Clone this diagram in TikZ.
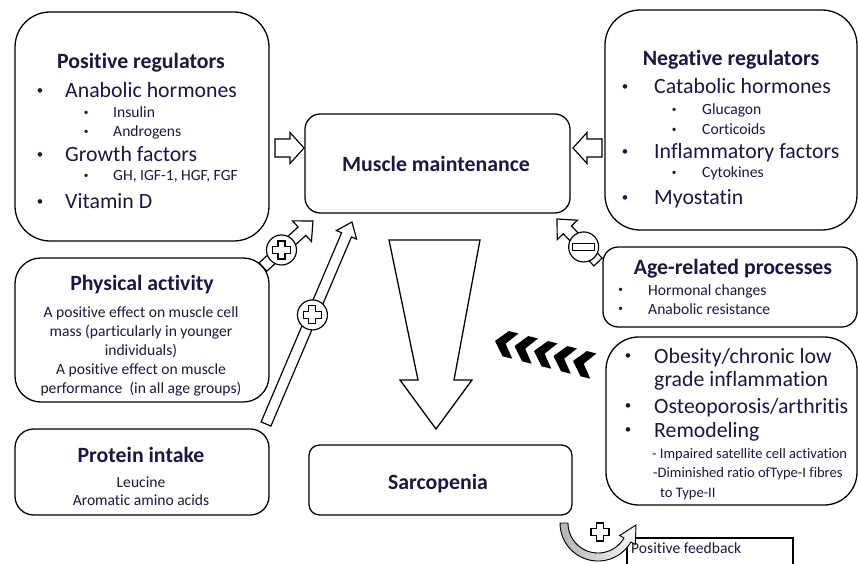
\documentclass[tikz,border=0pt]{standalone}
\usepackage{fontspec}
\setmainfont{Carlito}[Ligatures=NoCommon]
\usetikzlibrary{calc,fit}

\definecolor{ink}{RGB}{28,22,64}

\newcommand\bul[1]{\makebox[#1][l]{\hspace{1.5pt}\raisebox{3pt}{\fontsize{11}{11}\selectfont\textbullet}}}
\newcommand\sbul[1]{\makebox[#1][l]{\hspace{1pt}\raisebox{1.8pt}{\fontsize{8}{8}\selectfont\textbullet}}}
% outlined block arrow: tail, tip, half shaft, half head, head length
\newcommand\blockarrow[5]{%
  \coordinate (hb) at ($(#2)!#5!(#1)$);
  \draw[line width=1pt, fill=white, line join=miter]
    ($(#1)!#3!90:(#2)$) -- ($(hb)!#3!90:(#2)$) -- ($(hb)!#4!90:(#2)$) -- (#2)
    -- ($(hb)!#4!-90:(#2)$) -- ($(hb)!#3!-90:(#2)$) -- ($(#1)!#3!-90:(#2)$) -- cycle;
}

\tikzset{
  plus sign/.pic={
    \draw[line width=0.9pt, fill=white] (-3.5,-9) -- (3.5,-9) -- (3.5,-3.5) -- (9,-3.5) -- (9,3.5)
      -- (3.5,3.5) -- (3.5,9) -- (-3.5,9) -- (-3.5,3.5) -- (-9,3.5) -- (-9,-3.5) -- (-3.5,-3.5) -- cycle;
  }
}

\begin{document}
\begin{tikzpicture}[x=0.03cm, y=-0.03cm,
  box/.style={draw, line width=1.1pt, inner sep=0pt},
  title/.style={anchor=base, inner sep=0pt, font=\bfseries\fontsize{18.6}{22}\selectfont, text=ink},
  item/.style={anchor=base west, inner sep=0pt, text=ink, font=\fontsize{18.6}{22}\selectfont},
  sub/.style={anchor=base west, inner sep=0pt, text=ink, font=\fontsize{13.3}{16}\selectfont},
  small/.style={anchor=base west, inner sep=0pt, text=ink, font=\fontsize{12.4}{15}\selectfont},
  note/.style={inner sep=0pt, text=ink, align=center, font=\fontsize{13.3}{16.2}\selectfont},
  sign/.style={circle, draw, line width=1pt, fill=white, minimum size=0.9cm, inner sep=0pt}]

\useasboundingbox (0,0) rectangle (858,564);

% boxes
\node[box, rounded corners=30pt, fit={(15,12) (269,241)}] (pos) {};
\node[box, rounded corners=30pt, fit={(605,10) (857,230)}] (neg) {};
\node[box, rounded corners=13pt, fit={(305,114) (570,213)}] (mm) {};
\node[box, rounded corners=22pt, fit={(15,258) (269,402)}] (phys) {};
\node[box, rounded corners=16pt, fit={(15,429) (269,515)}] (prot) {};
\node[box, rounded corners=9pt, fit={(309,445) (572,515)}] (sarc) {};
\node[box, rounded corners=13pt, fit={(603,247) (857,327)}] (age) {};
\node[box, rounded corners=28pt, fit={(606,337) (857,505)}] (obes) {};
\node[draw, line width=1pt, inner sep=0pt, fit={(627,538) (793,575)}] (fb) {};

\node[title] (mm-t) at (436,172) {Muscle maintenance};
\node[title] (sarc-t) at (438,489) {Sarcopenia};

% positive regulators
\node[title] (pos-t) at (141,69) {Positive regulators};
\node[item] (pos-1) at (35,98) {\bul{0.9cm}Anabolic hormones};
\node[sub] (pos-1a) at (82.5,118) {\sbul{0.915cm}Insulin};
\node[sub] (pos-1b) at (82.5,137) {\sbul{0.915cm}Androgens};
\node[item] (pos-2) at (35,162) {\bul{0.9cm}Growth factors};
\node[sub] (pos-2a) at (82.5,181) {\sbul{0.915cm}GH, IGF-1, HGF, FGF};
\node[item] (pos-3) at (35,209) {\bul{0.9cm}Vitamin D};

% negative regulators
\node[title] (neg-t) at (731,66) {Negative regulators};
\node[item] (neg-1) at (620,94) {\bul{1.02cm}Catabolic hormones};
\node[sub] (neg-1a) at (670.5,115) {\sbul{0.945cm}Glucagon};
\node[sub] (neg-1b) at (670.5,135) {\sbul{0.945cm}Corticoids};
\node[item] (neg-2) at (620,159) {\bul{1.02cm}Inflammatory factors};
\node[sub] (neg-2a) at (670.5,178) {\sbul{0.945cm}Cytokines};
\node[item] (neg-3) at (620,205) {\bul{1.02cm}Myostatin};

% physical activity, protein intake
\node[title] (phys-t) at (142,291) {Physical activity};
\node[note] (phys-n) at (141,351) {A positive effect on muscle cell\\mass (particularly in younger\\individuals)\\A positive effect on muscle\\performance\ \ (in all age groups)};
\node[title] (prot-t) at (141,462) {Protein intake};
\node[sub, anchor=base] (prot-1) at (141,487) {Leucine};
\node[sub, anchor=base] (prot-2) at (141,505) {Aromatic amino acids};

% age-related processes
\node[title] (age-t) at (733,274) {Age-related processes};
\node[sub] (age-1) at (617,295) {\sbul{0.93cm}Hormonal changes};
\node[sub] (age-2) at (617,314) {\sbul{0.93cm}Anabolic resistance};

% obesity etc.
\node[item] (obes-1) at (623,363) {\bul{0.93cm}Obesity/chronic low};
\node[item] (obes-1b) at (654,386) {grade inflammation};
\node[item] (obes-2) at (623,413) {\bul{0.93cm}Osteoporosis/arthritis};
\node[item] (obes-3) at (623,437) {\bul{0.93cm}Remodeling};
\node[small] (obes-3a) at (652,458) {- Impaired satellite cell activation};
\node[small] (obes-3b) at (653,477) {-Diminished ratio ofType-I fibres};
\node[small] (obes-3c) at (660,497) {to Type-II};
\node[sub] (fb-t) at (631,553) {Positive feedback};

% arrows into muscle maintenance
\coordinate (l-tail) at (275,148);
\coordinate (l-tip) at (304,148);
\coordinate (r-tail) at (602,148);
\coordinate (r-tip) at (573,148);
\blockarrow{l-tail}{l-tip}{0.27cm}{0.465cm}{0.42cm}
\blockarrow{r-tail}{r-tip}{0.27cm}{0.465cm}{0.42cm}

\coordinate (pa-tail) at (263,267);
\coordinate (pa-tip) at (313,221);
\blockarrow{pa-tail}{pa-tip}{0.17cm}{0.42cm}{0.45cm}
\node[sign] (pa-c) at ($(pa-tail)!0.37!(pa-tip)$) {};
\pic at (pa-c) {plus sign};

\coordinate (pi-tail) at (266,424);
\coordinate (pi-tip) at (352,222);
\blockarrow{pi-tail}{pi-tip}{0.16cm}{0.33cm}{0.42cm}
\node[sign] (pi-c) at ($(pi-tail)!0.54!(pi-tip)$) {};
\pic at (pi-c) {plus sign};

\coordinate (ag-tail) at (598,262);
\coordinate (ag-tip) at (557,219);
\blockarrow{ag-tail}{ag-tip}{0.17cm}{0.42cm}{0.45cm}
\node[sign] (ag-c) at ($(ag-tail)!0.35!(ag-tip)$) {};
\draw[line width=0.9pt, fill=white] ($(ag-c)+(-11,-3.5)$) rectangle ($(ag-c)+(11,3.5)$);

% big arrow down to sarcopenia
\draw[line width=1.1pt, fill=white, line join=miter] (389,240) -- (480,240) -- (454,380) -- (472,380)
  -- (436,429) -- (400,380) -- (418,380) -- cycle;

% chevrons
\foreach \k in {0,...,4}
  \fill[black, shift={(495+\k*19.5,341+\k*5)}, rotate=-14]
    (0,0) -- (11,-13) -- (21,-13) -- (11,0) -- (21,13) -- (11,13) -- cycle;

% positive feedback loop
\draw[line width=0.8pt, left color=gray!60, right color=gray!5]
  plot[domain=180:30, samples=40] ({598+38*cos(\x)},{523+38*sin(\x)})
  -- ({598+43*cos(30)},{523+43*sin(30)})
  -- (636,525)
  -- ({598+25*cos(30)},{523+25*sin(30)})
  -- plot[domain=30:180, samples=40] ({598+30*cos(\x)},{523+30*sin(\x)})
  -- cycle;
\pic at (600,532) {plus sign};
\end{tikzpicture}
\end{document}
